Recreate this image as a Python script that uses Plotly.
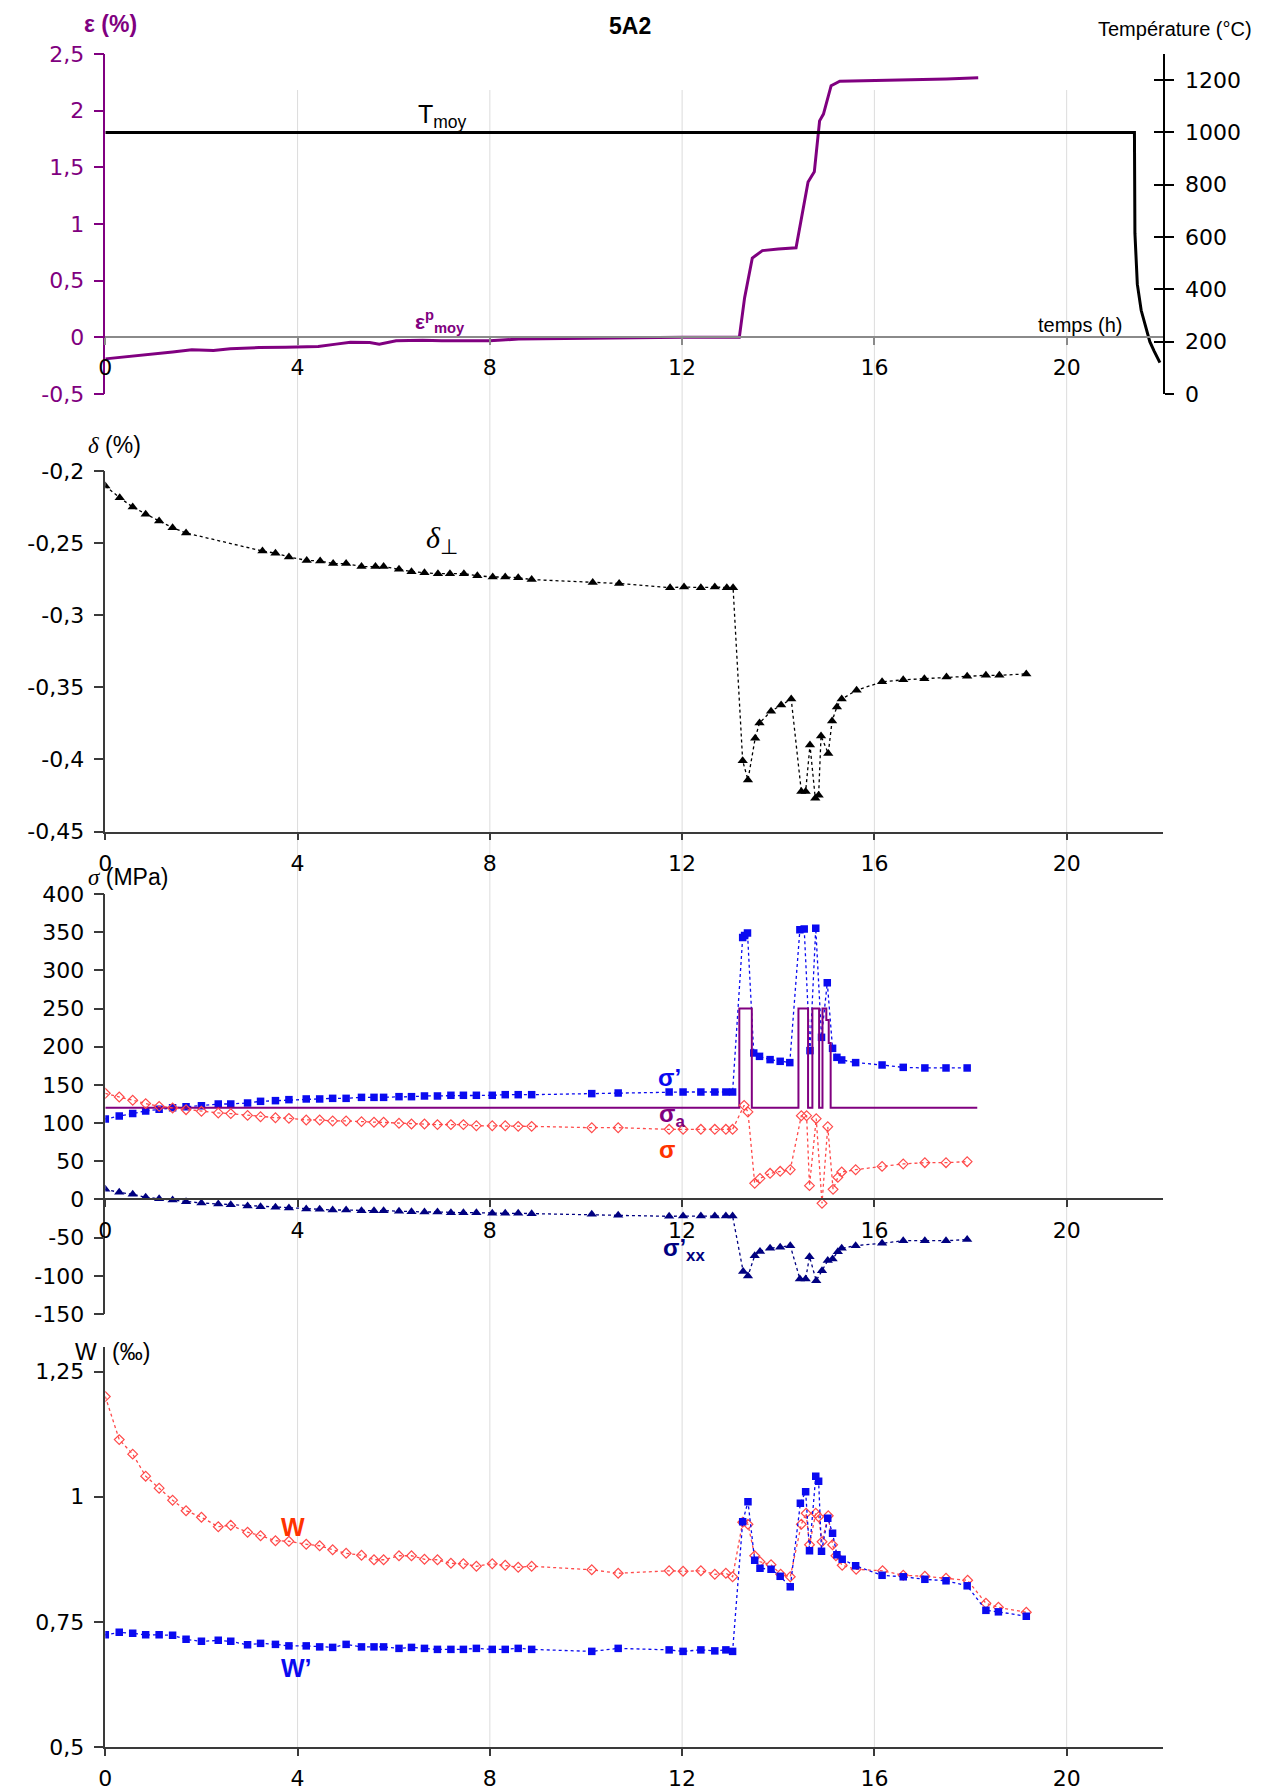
import plotly.graph_objects as go

W_PX, H_PX = 1263, 1791

# ---------------- data ----------------
# panel 1 : temperature (right axis) and plastic strain (left axis)
t_T = [0, 21.41, 21.42, 21.47, 21.55, 21.65, 21.73, 21.82, 21.94]
T_moy = [1000, 1000, 615, 420, 320, 253, 200, 164, 120]

t_eps = [0, 0.5, 1.0, 1.4, 1.8, 2.25, 2.6, 3.2, 3.75, 4.43, 4.8, 5.1, 5.5, 5.7, 6.05,
         6.6, 7.0, 7.5, 8.0, 8.6, 9.2, 10.0, 11.0, 12.0, 13.0, 13.19, 13.3, 13.46, 13.67,
         14.0, 14.37, 14.48, 14.62, 14.75, 14.86, 14.94, 15.1, 15.28, 16.0, 16.64, 17.5, 18.16]
eps_p = [-0.19, -0.17, -0.15, -0.13, -0.11, -0.117, -0.1, -0.09, -0.088, -0.08, -0.06, -0.044,
         -0.045, -0.06, -0.03, -0.025, -0.03, -0.028, -0.03, -0.015, -0.012, -0.005, -0.005,
         0.0, 0.0, 0.0, 0.35, 0.70, 0.765, 0.78, 0.79, 1.03, 1.37, 1.46, 1.91, 1.97, 2.22,
         2.26, 2.265, 2.27, 2.28, 2.29]

# panel 2 : delta
t_delta = [0, 0.30, 0.57, 0.84, 1.12, 1.40, 1.68, 3.27, 3.54, 3.82, 4.19, 4.47, 4.74, 5.01,
           5.33, 5.62, 5.79, 6.11, 6.37, 6.64, 6.92, 7.17, 7.46, 7.74, 8.06, 8.32, 8.59, 8.87,
           10.14, 10.69, 11.75, 12.04, 12.39, 12.68, 12.93, 13.06, 13.26, 13.37, 13.52, 13.61,
           13.85, 14.06, 14.27, 14.48, 14.57, 14.66, 14.77, 14.84, 14.89, 15.04, 15.12, 15.22,
           15.32, 15.63, 16.16, 16.60, 17.04, 17.50, 17.93, 18.32, 18.60, 19.16]
delta = [-0.2104, -0.2185, -0.225, -0.230, -0.2347, -0.2393, -0.243, -0.2555, -0.257, -0.2596,
         -0.262, -0.2624, -0.2642, -0.2642, -0.2663, -0.2663, -0.2663, -0.2682, -0.2698, -0.2705,
         -0.2712, -0.2712, -0.2712, -0.2726, -0.2735, -0.2735, -0.274, -0.2753, -0.2774, -0.278,
         -0.2809, -0.2804, -0.2809, -0.2804, -0.2809, -0.2809, -0.401, -0.4142, -0.3853, -0.3747,
         -0.3666, -0.3622, -0.3582, -0.4223, -0.4223, -0.3901, -0.4269, -0.4248, -0.3837, -0.3959,
         -0.3733, -0.3636, -0.3582, -0.352, -0.3462, -0.3448, -0.344, -0.3428, -0.3423, -0.3417,
         -0.3417, -0.3407]

# common measurement times (first part of the test)
t_base = [0, 0.29, 0.57, 0.84, 1.12, 1.40, 1.68, 2.0, 2.35, 2.61, 2.96, 3.23, 3.54, 3.82, 4.18,
          4.46, 4.73, 5.01, 5.33, 5.59, 5.79, 6.11, 6.37, 6.64, 6.91, 7.19, 7.45, 7.72, 8.05,
          8.32, 8.59, 8.87, 10.12, 10.67, 11.73, 12.02, 12.39, 12.68, 12.91, 13.05]

# panel 3 : stresses
t_sig_p = t_base + [13.26, 13.30, 13.36, 13.49, 13.61, 13.83, 14.04, 14.24, 14.45, 14.54, 14.66,
                    14.78, 14.90, 15.02, 15.13, 15.22, 15.32, 15.61, 16.16, 16.60, 17.05, 17.49, 17.93]
sig_p = [105.4, 109.3, 112.4, 115.9, 118, 120.2, 121.5, 122.8, 125, 125, 126.4, 128.5, 129.4,
         130.7, 131.6, 131.6, 132.4, 132.4, 133.7, 133.7, 133.7, 134.6, 134.6, 135.5, 135.5,
         136.4, 136.4, 136.4, 136.4, 137.2, 137.2, 137.2, 138.6, 139.4, 140.7, 140.7, 140.7,
         140.7, 140.7, 140.7, 343, 345.5, 349, 191.8, 187.4, 183.1, 180.9, 179.2, 353.3, 354.2,
         194.9, 355, 212.3, 283.9, 197.9, 186.1, 182.7, 179.2, 176.1, 173, 172.2, 172.2, 172.2]

t_sig = t_base + [13.29, 13.37, 13.51, 13.62, 13.83, 14.04, 14.25, 14.48, 14.59, 14.65, 14.79,
                  14.91, 15.03, 15.14, 15.24, 15.32, 15.61, 16.16, 16.60, 17.05, 17.49, 17.93]
sig = [139, 134.2, 129.8, 125.5, 121.9, 119.8, 117.6, 115.4, 113.3, 112.4, 110.1, 108.4, 107.1,
       106.2, 104.1, 104.1, 102.8, 102.8, 101.9, 101, 101, 99.7, 98.8, 98.8, 98, 98, 98, 96.6,
       96.6, 96.6, 95.7, 95.7, 94, 94, 91.8, 91.8, 91.8, 91.8, 91.8, 91.8, 123.2, 114.6, 21.1,
       27.6, 34.2, 36.8, 39, 109.7, 109.7, 18.1, 105.8, -5.1, 95.3, 13.2, 28.9, 36, 39, 43.3,
       46.5, 48.2, 48.2, 49.5]

t_sig_xx = t_base + [13.27, 13.37, 13.51, 13.62, 13.83, 14.04, 14.25, 14.45, 14.57, 14.65, 14.79,
                     14.91, 15.03, 15.13, 15.24, 15.32, 15.61, 16.16, 16.60, 17.05, 17.49, 17.93]
sig_xx = [13.2, 9.3, 6.7, 2.8, 1, -0.7, -2.9, -4.6, -5.9, -6.8, -8.5, -9.4, -10.3, -11.1, -12.4,
          -12.8, -13.8, -13.8, -14.7, -14.7, -14.7, -15.6, -16, -16.4, -16.4, -17.3, -17.3, -17.3,
          -18.2, -18.2, -18.2, -18.6, -19.5, -20.8, -22.1, -21.7, -21.7, -21.7, -21.7, -21.7,
          -94.2, -100.2, -73.6, -68, -64, -62.7, -60.5, -104.1, -104.1, -74.9, -106.3, -93.2,
          -80.1, -77.9, -68.4, -64, -60.5, -57.5, -54, -54, -54, -52.6]

t_sig_a = [0, 13.19, 13.45, 14.42, 14.62, 14.71, 14.85, 14.92, 15.0, 15.05, 15.09, 18.14]
sig_a = [120, 250, 120, 250, 120, 250, 120, 250, 235, 205, 120, 120]

# panel 4 : W and W'
t_W = t_base + [13.26, 13.37, 13.51, 13.62, 13.85, 14.05, 14.25, 14.48, 14.58, 14.65, 14.78, 14.84,
                14.91, 15.04, 15.13, 15.20, 15.33, 15.62, 16.17, 16.60, 17.05, 17.49, 17.94,
                18.32, 18.58, 19.16]
W_val = [1.200, 1.114, 1.085, 1.041, 1.017, 0.993, 0.972, 0.959, 0.940, 0.943, 0.929, 0.922,
         0.912, 0.911, 0.905, 0.902, 0.894, 0.887, 0.883, 0.874, 0.874, 0.882, 0.882, 0.875,
         0.874, 0.867, 0.866, 0.861, 0.866, 0.863, 0.859, 0.861, 0.854, 0.847, 0.852, 0.851,
         0.852, 0.845, 0.847, 0.840, 0.949, 0.945, 0.882, 0.870, 0.864, 0.845, 0.840, 0.945,
         0.967, 0.904, 0.967, 0.960, 0.910, 0.962, 0.904, 0.882, 0.863, 0.855, 0.852, 0.843,
         0.841, 0.837, 0.833, 0.787, 0.779, 0.769]

t_Wp = t_base + [13.26, 13.37, 13.51, 13.62, 13.85, 14.04, 14.25, 14.46, 14.57, 14.65, 14.78,
                 14.84, 14.90, 15.03, 15.13, 15.22, 15.33, 15.61, 16.16, 16.60, 17.05, 17.49,
                 17.93, 18.32, 18.58, 19.16]
Wp_val = [0.724, 0.729, 0.727, 0.724, 0.724, 0.723, 0.715, 0.711, 0.713, 0.711, 0.704, 0.707,
          0.705, 0.702, 0.702, 0.700, 0.699, 0.705, 0.700, 0.700, 0.700, 0.697, 0.699, 0.697,
          0.695, 0.695, 0.695, 0.697, 0.695, 0.695, 0.697, 0.695, 0.691, 0.697, 0.694, 0.691,
          0.694, 0.692, 0.694, 0.691, 0.950, 0.990, 0.873, 0.857, 0.855, 0.841, 0.820, 0.987,
          1.010, 0.892, 1.041, 1.031, 0.891, 0.957, 0.927, 0.884, 0.875, 0.862, 0.843, 0.840,
          0.835, 0.832, 0.822, 0.773, 0.770, 0.761]

# tick values / labels
x_ticks = [0, 4, 8, 12, 16, 20]
grid_ticks = [4, 8, 12, 16, 20]
eps_ticks = [-0.5, 0, 0.5, 1, 1.5, 2, 2.5]
eps_ticktext = ["-0,5", "0", "0,5", "1", "1,5", "2", "2,5"]
T_ticks = [0, 200, 400, 600, 800, 1000, 1200]
T_ticktext = ["0", "200", "400", "600", "800", "1000", "1200"]
delta_ticks = [-0.45, -0.4, -0.35, -0.3, -0.25, -0.2]
delta_ticktext = ["-0,45", "-0,4", "-0,35", "-0,3", "-0,25", "-0,2"]
sig_ticks = [-150, -100, -50, 0, 50, 100, 150, 200, 250, 300, 350, 400]
sig_ticktext = ["-150", "-100", "-50", "0", "50", "100", "150", "200", "250", "300", "350", "400"]
W_ticks = [0.5, 0.75, 1, 1.25]
W_ticktext = ["0,5", "0,75", "1", "1,25"]

# ---------------- layout geometry ----------------
# page coordinates -> paper fractions (page body has an 8px default margin)
OFF = 8


def px(x):
    return (x - OFF) / W_PX


def py(y):
    return 1 - (y - OFF) / H_PX


XDOM = [px(105.3), px(1162.8)]
XR = [0, 22]
P1 = [py(394), py(54)]
P2 = [py(831.5), py(471)]
P3 = [py(1314), py(894)]
P4 = [py(1747), py(1346.5)]
EPS_R = [-0.5, 2.5]
T_R = [0, 1300]
D_R = [-0.45, -0.2]
S_R = [-150, 400]
W_R = [0.5, 1.3]

pos_x1 = P1[0] + (0 - EPS_R[0]) / (EPS_R[1] - EPS_R[0]) * (P1[1] - P1[0])
pos_x3 = P3[0] + (0 - S_R[0]) / (S_R[1] - S_R[0]) * (P3[1] - P3[0])

PURPLE = "#800080"
BLUE = "#0A0AF0"
RED = "#FF4A4A"
NAVY = "#000080"
AX = "#3a3a3a"
TICKFONT = dict(family="DejaVu Sans", size=22, color="black")
DASH = "3px,3px"

fig = go.Figure()

# panel 1
fig.add_trace(go.Scatter(x=t_T, y=T_moy, xaxis="x", yaxis="y2", mode="lines",
                         line=dict(color="black", width=3)))
fig.add_trace(go.Scatter(x=t_eps, y=eps_p, xaxis="x", yaxis="y", mode="lines",
                         line=dict(color=PURPLE, width=3)))
fig.add_trace(go.Scatter(x=[None], y=[None], xaxis="x", yaxis="y3", mode="lines"))

# panel 2
fig.add_trace(go.Scatter(x=t_delta, y=delta, xaxis="x2", yaxis="y4", mode="lines+markers",
                         line=dict(color="black", width=1.3, dash=DASH),
                         marker=dict(symbol="triangle-up", size=9, color="black")))

# panel 3
fig.add_trace(go.Scatter(x=t_sig_p, y=sig_p, xaxis="x3", yaxis="y5", mode="lines+markers",
                         line=dict(color=BLUE, width=1.3, dash=DASH),
                         marker=dict(symbol="square", size=7.5, color=BLUE)))
fig.add_trace(go.Scatter(x=t_sig_a, y=sig_a, xaxis="x3", yaxis="y5", mode="lines",
                         line=dict(color=PURPLE, width=2, shape="hv")))
fig.add_trace(go.Scatter(x=t_sig, y=sig, xaxis="x3", yaxis="y5", mode="lines+markers",
                         line=dict(color=RED, width=1.3, dash=DASH),
                         marker=dict(symbol="diamond-open", size=7.5, color=RED, line=dict(width=1.2))))
fig.add_trace(go.Scatter(x=t_sig_xx, y=sig_xx, xaxis="x3", yaxis="y5", mode="lines+markers",
                         line=dict(color=NAVY, width=1.3, dash=DASH),
                         marker=dict(symbol="triangle-up", size=9, color=NAVY)))

# panel 4
fig.add_trace(go.Scatter(x=t_W, y=W_val, xaxis="x4", yaxis="y6", mode="lines+markers",
                         line=dict(color=RED, width=1.3, dash=DASH),
                         marker=dict(symbol="diamond-open", size=7.5, color=RED, line=dict(width=1.2))))
fig.add_trace(go.Scatter(x=t_Wp, y=Wp_val, xaxis="x4", yaxis="y6", mode="lines+markers",
                         line=dict(color=BLUE, width=1.3, dash=DASH),
                         marker=dict(symbol="square", size=7.5, color=BLUE)))


def xaxis_cfg(**kw):
    d = dict(domain=XDOM, range=XR, tickvals=x_ticks, ticktext=[str(v) for v in x_ticks],
             showgrid=False, zeroline=False, showline=True, linecolor=AX, linewidth=1.5,
             ticks="outside", ticklen=7, tickcolor=AX, tickwidth=1.5, tickfont=TICKFONT,
             ticklabelstandoff=4, fixedrange=True, automargin=False)
    d.update(kw)
    return d


def yaxis_cfg(**kw):
    d = dict(showgrid=False, zeroline=False, showline=True, linecolor=AX, linewidth=1.5,
             ticks="outside", ticklen=10, tickcolor=AX, tickwidth=1.5, tickfont=TICKFONT,
             ticklabelstandoff=5, fixedrange=True, automargin=False)
    d.update(kw)
    return d


fig.update_layout(
    template="none",
    width=W_PX, height=H_PX, margin=dict(l=0, r=0, t=0, b=0, pad=0), autosize=False,
    paper_bgcolor="white", plot_bgcolor="rgba(0,0,0,0)", showlegend=False,
    xaxis=xaxis_cfg(anchor="free", position=pos_x1, linecolor="#8a8a8a", tickcolor="#8a8a8a"),
    yaxis=yaxis_cfg(domain=P1, range=EPS_R, anchor="x", tickvals=eps_ticks, ticktext=eps_ticktext,
                    linecolor=PURPLE, tickcolor=PURPLE,
                    tickfont=dict(family="DejaVu Sans", size=22, color=PURPLE)),
    yaxis2=yaxis_cfg(domain=P1, range=T_R, anchor="x", overlaying="y", side="right",
                     tickvals=T_ticks, ticktext=T_ticktext, linecolor="black", tickcolor="black",
                     ticklen=9, ticklabelstandoff=7),
    yaxis3=dict(domain=P1, range=T_R, anchor="x", overlaying="y", side="right",
                tickvals=T_ticks, showticklabels=False, ticks="inside", ticklen=9,
                tickcolor="black", tickwidth=1.5, showline=False, showgrid=False,
                zeroline=False, fixedrange=True, automargin=False),
    xaxis2=xaxis_cfg(anchor="y4"),
    yaxis4=yaxis_cfg(domain=P2, range=D_R, anchor="x2", tickvals=delta_ticks,
                     ticktext=delta_ticktext),
    xaxis3=xaxis_cfg(anchor="free", position=pos_x3),
    yaxis5=yaxis_cfg(domain=P3, range=S_R, anchor="x3", tickvals=sig_ticks,
                     ticktext=sig_ticktext),
    xaxis4=xaxis_cfg(anchor="y6"),
    yaxis6=yaxis_cfg(domain=P4, range=W_R, anchor="x4", tickvals=W_ticks, ticktext=W_ticktext),
)

# continuous vertical grid lines across all panels
for gx in grid_ticks:
    fig.add_shape(type="line", xref="x", yref="paper", x0=gx, x1=gx, y0=py(1747), y1=py(90),
                  line=dict(color="#dcdcdc", width=1), layer="below")

SANS = "Liberation Sans"
SERIF = "Liberation Serif"


def ann(text, x, y, size, color="black", family=SANS, xanchor="center"):
    fig.add_annotation(text=text, x=px(x), y=py(y), xref="paper", yref="paper",
                       xanchor=xanchor, yanchor="middle", showarrow=False,
                       font=dict(family=family, size=size, color=color))


ann("<b>5A2</b>", 630, 26, 23)
ann("<b>ε (%)</b>", 110, 24, 23, color=PURPLE)
ann("Température (°C)", 1254, 29, 20, xanchor="right")
ann("T<sub>moy</sub>", 416, 116, 25, xanchor="left")
ann("<b>ε<sup>p</sup><sub>moy</sub></b>", 413, 322, 21, color=PURPLE, xanchor="left")
ann("temps (h)", 1036, 325, 20, xanchor="left")

ann("<span style='font-family:Liberation Serif'><i>δ</i></span> (%)", 86, 445, 23, xanchor="left")
ann("<i>δ</i><sub>⊥</sub>", 424, 540, 30, family=SERIF, xanchor="left")

ann("<span style='font-family:Liberation Serif'><i>σ</i></span> (MPa)", 86, 877, 23, xanchor="left")
ann("<b>σ’</b>", 669, 1077, 24, color=BLUE)
ann("<b>σ<sub>a</sub></b>", 672, 1115, 24, color=PURPLE)
ann("<b>σ</b>", 667, 1149, 24, color="#FF3300")
ann("<b>σ’<sub>xx</sub></b>", 684, 1249, 24, color=NAVY)

ann("W", 73, 1352, 23, xanchor="left")
ann("(‰)", 110, 1352, 23, xanchor="left")
ann("<b>W</b>", 293, 1527, 25, color="#FF3300")
ann("<b>W’</b>", 296, 1668, 25, color=BLUE)

fig.write_html("out.html")
